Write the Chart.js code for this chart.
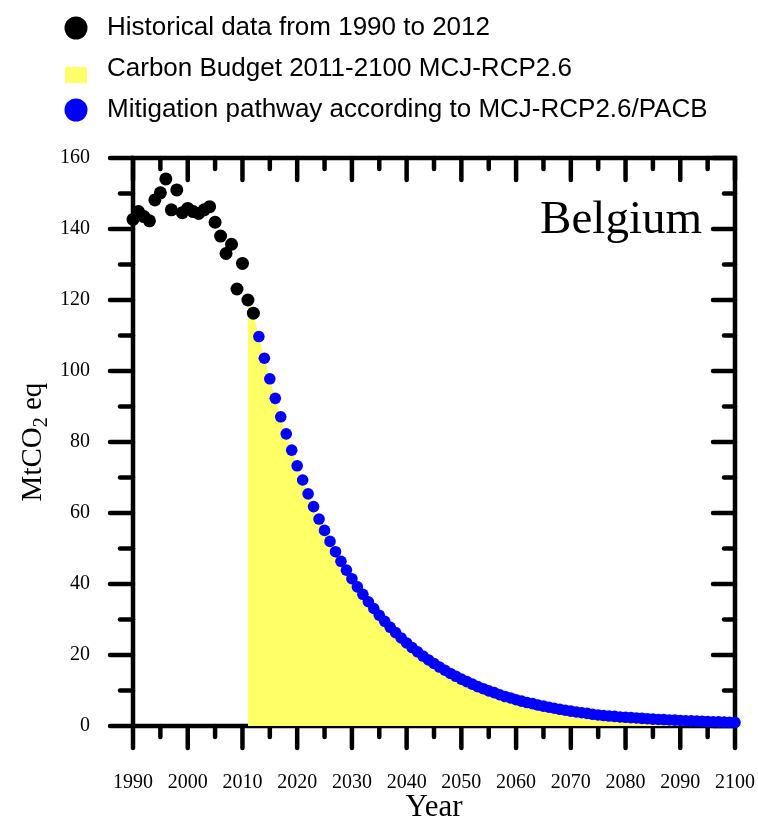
<!DOCTYPE html>
<html>
<head>
<meta charset="utf-8">
<style>
html,body{margin:0;padding:0;background:#ffffff;}
#c{display:block;}
</style>
<script src="https://cdn.jsdelivr.net/npm/chart.js@4.4.1/dist/chart.umd.min.js"></script>
</head>
<body>
<canvas id="c" width="758" height="823" style="width:758px;height:823px"></canvas>
<script>
// ---------------- data ----------------
const countryName = 'Belgium';
const legendLabels = [
  'Historical data from 1990 to 2012',
  'Carbon Budget 2011-2100 MCJ-RCP2.6',
  'Mitigation pathway according to MCJ-RCP2.6/PACB'
];
const xTitle = 'Year';
const yTitleMain = 'MtCO';
const yTitleSub = '2';
const yTitleRest = ' eq';

const histYears = [1990,1991,1992,1993,1994,1995,1996,1997,1998,1999,2000,2001,2002,2003,2004,2005,2006,2007,2008,2009,2010,2011,2012];
const histValues = [142.7,144.9,143.5,142.3,148.2,150.2,154.1,145.4,151.0,144.6,145.8,144.9,144.4,145.4,146.3,141.9,138.0,133.1,135.7,123.1,130.3,120.0,116.3];

const pathYears = [2013,2014,2015,2016,2017,2018,2019,2020,2021,2022,2023,2024,2025,2026,2027,2028,2029,2030,
  2031,2032,2033,2034,2035,2036,2037,2038,2039,2040,2041,2042,2043,2044,2045,2046,2047,2048,2049,2050,
  2051,2052,2053,2054,2055,2056,2057,2058,2059,2060,2061,2062,2063,2064,2065,2066,2067,2068,2069,2070,
  2071,2072,2073,2074,2075,2076,2077,2078,2079,2080,2081,2082,2083,2084,2085,2086,2087,2088,2089,2090,
  2091,2092,2093,2094,2095,2096,2097,2098,2099,2100];
const pathValues = [109.7,103.6,97.8,92.3,87.1,82.3,77.7,73.3,69.3,65.4,61.8,58.3,55.1,52.0,49.1,46.4,43.9,41.5,
  39.2,37.1,35.0,33.1,31.2,29.5,27.8,26.3,24.8,23.4,22.1,20.9,19.7,18.6,17.6,16.6,15.7,14.8,14.0,13.2,
  12.5,11.8,11.1,10.5,9.9,9.4,8.8,8.3,7.9,7.4,7.0,6.6,6.3,5.9,5.6,5.3,5.0,4.7,4.45,4.2,
  3.95,3.75,3.55,3.3,3.1,2.95,2.8,2.7,2.55,2.45,2.35,2.25,2.15,2.05,1.95,1.85,1.8,1.7,1.65,1.55,
  1.5,1.45,1.4,1.3,1.25,1.2,1.15,1.1,1.05,1.0];

// carbon budget area: 2011-2100 (last two historical points + pathway)
const budgetYears = histYears.slice(-2).concat(pathYears);
const budgetValues = histValues.slice(-2).concat(pathValues);

const xMajorTicks = [1990,2000,2010,2020,2030,2040,2050,2060,2070,2080,2090,2100];
const xMinorTicks = [1995,2005,2015,2025,2035,2045,2055,2065,2075,2085,2095];
const yMajorTicks = [0,20,40,60,80,100,120,140,160];
const yMinorTicks = [10,30,50,70,90,110,130,150];

// ---------------- styling ----------------
const SERIF = "'Liberation Serif','Times New Roman',serif";
const SANS = "'Liberation Sans',Arial,sans-serif";
const BLACK = '#000000';
const BLUE = '#0000ff';
const YELLOW = '#ffff66';

function marker(kind, color) {
  const c = document.createElement('canvas');
  const g = c.getContext('2d');
  if (kind === 'circle') {
    c.width = 24; c.height = 24;
    g.fillStyle = color; g.beginPath(); g.arc(12, 12, 11.5, 0, Math.PI * 2); g.fill();
  } else {
    c.width = 22; c.height = 28;
    g.fillStyle = color; g.fillRect(0, 12, 22, 16);
  }
  return c;
}
const legendMarkers = [marker('circle', BLACK), marker('rect', YELLOW), marker('circle', BLUE)];
const legendColors = [BLACK, YELLOW, BLUE];

const framePlugin = {
  id: 'frame',
  beforeDatasetsDraw(chart) {
    const {ctx, chartArea: a, scales: {x, y}} = chart;
    ctx.save();
    ctx.strokeStyle = BLACK;
    ctx.lineWidth = 4.5;
    ctx.lineCap = 'round';
    const seg = (x1, y1, x2, y2) => { ctx.beginPath(); ctx.moveTo(x1, y1); ctx.lineTo(x2, y2); ctx.stroke(); };
    xMajorTicks.forEach(v => { const p = x.getPixelForValue(v); seg(p, a.bottom, p, a.bottom + 22); seg(p, a.top, p, a.top + 22); });
    xMinorTicks.forEach(v => { const p = x.getPixelForValue(v); seg(p, a.bottom, p, a.bottom + 11); seg(p, a.top, p, a.top + 11); });
    yMajorTicks.forEach(v => { const p = y.getPixelForValue(v); seg(a.left - 23, p, a.left, p); seg(a.right - 22, p, a.right, p); });
    yMinorTicks.forEach(v => { const p = y.getPixelForValue(v); seg(a.left - 13, p, a.left, p); seg(a.right - 11, p, a.right, p); });
    ctx.lineCap = 'butt';
    ctx.strokeRect(a.left, a.top, a.right - a.left, a.bottom - a.top);

    // country name
    ctx.fillStyle = BLACK;
    ctx.font = '47px ' + SERIF;
    ctx.textAlign = 'right';
    ctx.textBaseline = 'alphabetic';
    ctx.fillText(countryName, a.right - 33, a.top + 75);

    // y axis title with subscript
    ctx.translate(41, (a.top + a.bottom) / 2);
    ctx.rotate(-Math.PI / 2);
    ctx.textAlign = 'left';
    const mainFont = '29px ' + SERIF, subFont = '20px ' + SERIF;
    ctx.font = mainFont; const w1 = ctx.measureText(yTitleMain).width; const w3 = ctx.measureText(yTitleRest).width;
    ctx.font = subFont; const w2 = ctx.measureText(yTitleSub).width;
    const start = -(w1 + w2 + w3) / 2;
    ctx.font = mainFont; ctx.fillText(yTitleMain, start, 0);
    ctx.font = subFont; ctx.fillText(yTitleSub, start + w1, 6);
    ctx.font = mainFont; ctx.fillText(yTitleRest, start + w1 + w2, 0);
    ctx.restore();
  }
};

const chart = new Chart(document.getElementById('c'), {
  type: 'scatter',
  data: {
    datasets: [
      {
        label: legendLabels[0],
        data: histYears.map((yr, i) => ({x: yr, y: histValues[i]})),
        backgroundColor: BLACK, borderColor: BLACK,
        pointRadius: 6.5, pointBorderWidth: 0, pointHoverRadius: 6.5,
        showLine: false, clip: false, order: 1
      },
      {
        label: legendLabels[1],
        data: budgetYears.map((yr, i) => ({x: yr, y: budgetValues[i]})),
        backgroundColor: YELLOW, borderColor: YELLOW,
        showLine: true, fill: 'origin', borderWidth: 0, pointRadius: 0, pointHoverRadius: 0,
        tension: 0, clip: false, order: 3
      },
      {
        label: legendLabels[2],
        data: pathYears.map((yr, i) => ({x: yr, y: pathValues[i]})),
        backgroundColor: BLUE, borderColor: BLUE,
        pointRadius: 5.8, pointBorderWidth: 0, pointHoverRadius: 5.8,
        showLine: false, clip: false, order: 2
      }
    ]
  },
  options: {
    responsive: false,
    animation: false,
    events: [],
    layout: {padding: {left: 43, right: 23, top: 0, bottom: 0}},
    plugins: {
      tooltip: {enabled: false},
      title: {display: false},
      subtitle: {
        display: true, text: ' ', position: 'top', weight: 10,
        font: {size: 10, lineHeight: 1}, padding: {top: 0, bottom: 15}, color: 'rgba(0,0,0,0)'
      },
      legend: {
        display: true, position: 'top', align: 'start',
        labels: {
          usePointStyle: true, pointStyleWidth: 36, padding: 15,
          color: BLACK, font: {family: SANS, size: 26},
          generateLabels: () => legendLabels.map((t, i) => ({
            text: t, fillStyle: legendColors[i], strokeStyle: legendColors[i], lineWidth: 0,
            pointStyle: legendMarkers[i], hidden: false, datasetIndex: i, fontColor: BLACK
          }))
        }
      }
    },
    scales: {
      x: {
        type: 'linear', position: 'bottom', min: 1990, max: 2100,
        afterBuildTicks: s => { s.ticks = xMajorTicks.map(v => ({value: v})); },
        afterFit: s => { s.height = 97; s.paddingLeft = 0; s.paddingRight = 0; },
        ticks: {font: {family: SERIF, size: 20}, color: BLACK, padding: 21, maxRotation: 0, autoSkip: false,
          callback: v => String(v)},
        grid: {display: true, drawOnChartArea: false, drawTicks: true, tickLength: 24, color: 'rgba(0,0,0,0)'},
        border: {display: false},
        title: {display: true, text: xTitle, color: BLACK, font: {family: SERIF, size: 31, lineHeight: 1}, padding: {top: 0, bottom: 0}}
      },
      y: {
        type: 'linear', position: 'left', min: 0, max: 160,
        afterBuildTicks: s => { s.ticks = yMajorTicks.map(v => ({value: v})); },
        afterFit: s => { s.width = 90; },
        ticks: {font: {family: SERIF, size: 20}, color: BLACK, padding: 18, autoSkip: false,
          callback: v => String(v)},
        grid: {display: true, drawOnChartArea: false, drawTicks: true, tickLength: 25, color: 'rgba(0,0,0,0)'},
        border: {display: false}
      }
    }
  },
  plugins: [framePlugin]
});
</script>
</body>
</html>
